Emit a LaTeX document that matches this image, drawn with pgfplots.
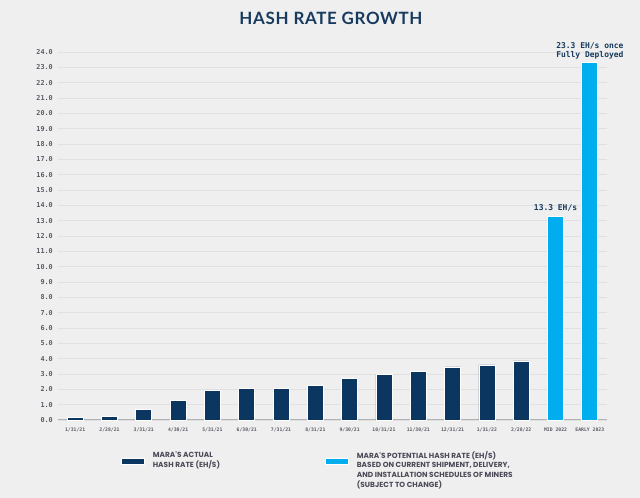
\documentclass[border=0pt]{standalone}
\usepackage{pgfplots}
\pgfplotsset{compat=1.18}
\usepackage{fontspec}
\setmainfont{Lato}
\setmonofont{DejaVu Sans Mono}
\newfontfamily\legfont{Poppins}[LetterSpace=0.5, BoldFont={Poppins Bold}]
\definecolor{bg}{HTML}{EFEFEF}
\definecolor{navy}{HTML}{0B3660}
\definecolor{cyanb}{HTML}{00AEEF}
\definecolor{tickc}{HTML}{5A5A66}
\definecolor{gridc}{HTML}{E0E0E0}
\definecolor{titlec}{HTML}{173A5E}
\definecolor{legtext}{HTML}{4A4A58}
\begin{document}
\begin{tikzpicture}[x=1bp,y=1bp]
\fill[bg] (0,0) rectangle (640,498);
\node[font=\fontsize{17}{17}\selectfont\bfseries\addfontfeatures{LetterSpace=4}, text=titlec] at (331,480) {HASH RATE GROWTH};
\begin{axis}[
  at={(58bp,78bp)}, anchor=south west,
  scale only axis, width=549bp, height=368bp,
  xmin=-0.5, xmax=15.5, ymin=0, ymax=24,
  axis x line*=bottom, axis y line*=left,
  x axis line style={draw=gray!60, line width=1bp, -},
  y axis line style={draw=none},
  ymajorgrids, xmajorgrids=false,
  y grid style={draw=gridc, line width=0.8bp},
  ytick={0,1,...,24},
  xtick={0,1,...,15},
  xticklabels={1/31/21,2/28/21,3/31/21,4/30/21,5/31/21,6/30/21,7/31/21,8/31/21,9/30/21,10/31/21,11/30/21,12/31/21,1/31/22,2/28/22,MID 2022,EARLY 2023},
  major tick length=0pt,
  /pgf/number format/assume math mode=true,
  yticklabel={\pgfmathprintnumber[fixed,fixed zerofill,precision=1]{\tick}},
  yticklabel style={font=\ttfamily\bfseries\fontsize{6.8}{7}\selectfont, text=tickc, anchor=east, inner sep=0pt, xshift=-5bp},
  xticklabel style={font=\ttfamily\bfseries\fontsize{4.8}{5}\selectfont, text=tickc, anchor=center, inner sep=0pt, yshift=-10bp},
  ybar, bar width=16bp,
  legend columns=2,
  legend style={at={(0.109,-0.074)}, anchor=north west, draw=none, fill=none,
    font=\legfont\bfseries\fontsize{7.4}{9.6}\selectfont, text=legtext,
    nodes={align=left, anchor=west},
    /tikz/every odd column/.append style={column sep=6bp},
    /tikz/every even column/.append style={column sep=103bp}},
  legend cell align=left,
  legend image code/.code={\fill[#1] (0bp,6bp) rectangle (23bp,12bp);},
  clip=false,
]
\addplot[fill=navy, draw=white, line width=0.8bp, bar shift=0pt] coordinates {
(0,0.17) (1,0.26) (2,0.70) (3,1.28) (4,1.91) (5,2.07) (6,2.07) (7,2.24) (8,2.72) (9,2.96) (10,3.15) (11,3.46) (12,3.59) (13,3.85)};
\addlegendentry{MARA'S ACTUAL\\HASH RATE (EH/S)\\\strut\\\strut}
\addplot[fill=cyanb, draw=white, line width=0.8bp, bar shift=0pt] coordinates {(14,13.3) (15,23.3)};
\addlegendentry{MARA'S POTENTIAL HASH RATE (EH/S)\\BASED ON CURRENT SHIPMENT, DELIVERY,\\AND INSTALLATION SCHEDULES OF MINERS\\(SUBJECT TO CHANGE)}
\node[font=\ttfamily\bfseries\fontsize{8}{9}\selectfont, text=titlec, anchor=south, align=center, inner sep=0pt] at (axis cs:14,13.3) [yshift=5bp] {13.3 EH/s};
\node[font=\ttfamily\bfseries\fontsize{8}{9}\selectfont, text=titlec, anchor=south, align=center, inner sep=0pt] at (axis cs:15,23.3) [yshift=3bp] {23.3 EH/s once\\Fully Deployed};
\end{axis}
\end{tikzpicture}
\end{document}
